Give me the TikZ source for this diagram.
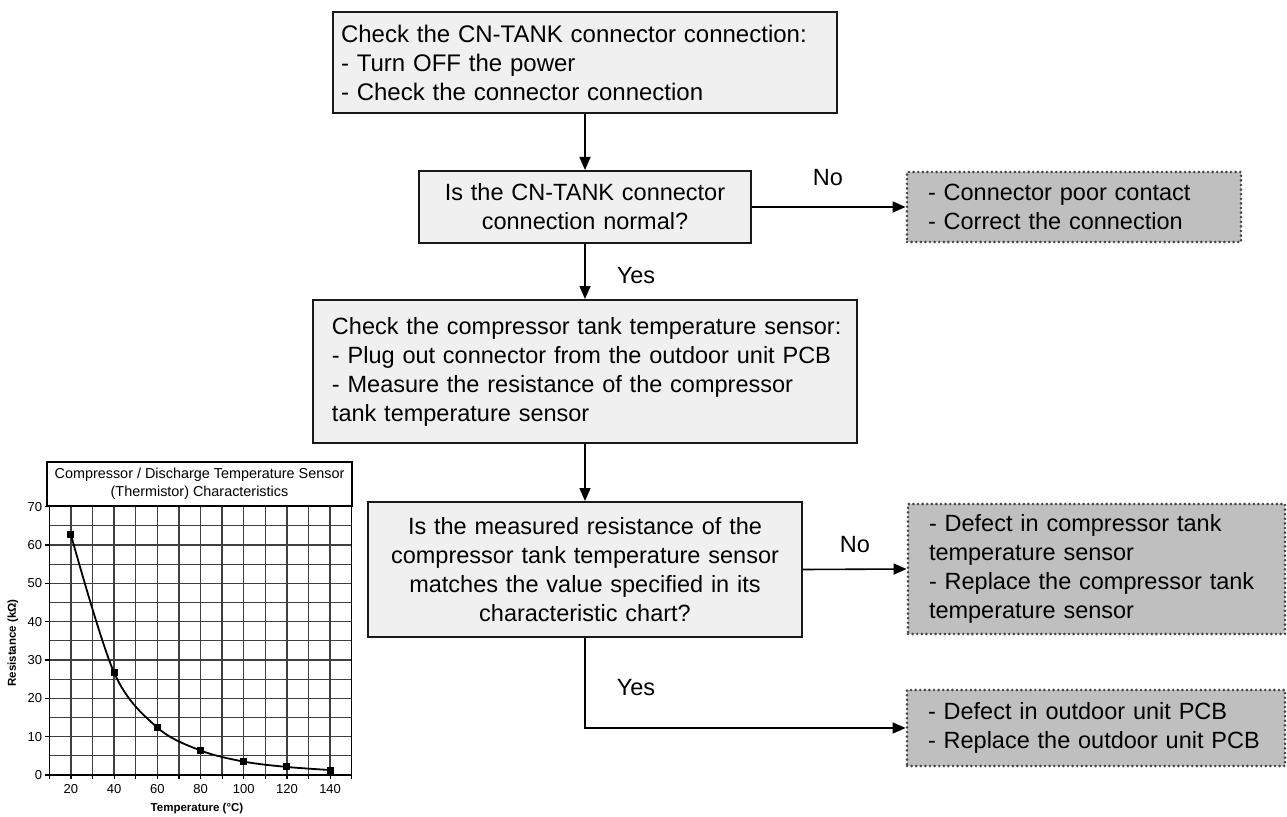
\documentclass[tikz,border=0pt]{standalone}
\usepackage{fontspec}
\setmainfont{Liberation Sans}
\usetikzlibrary{arrows.meta}
\definecolor{boxfill}{HTML}{F0F0F0}
\definecolor{resfill}{HTML}{BFBFBF}
\definecolor{dotcol}{HTML}{444444}
\hyphenpenalty=10000
\exhyphenpenalty=10000
\begin{document}
\begin{tikzpicture}[x=1bp,y=-1bp,
  bigfont/.style={font=\fontsize{23.5bp}{29bp}\selectfont},
  procbox/.style={draw=black!90, line width=2bp, fill=boxfill, bigfont, inner ysep=0bp},
  resbox/.style={draw=dotcol, fill=resfill, line width=2.9bp, dash pattern=on 0bp off 4.6bp, line cap=round, bigfont, inner ysep=0bp, align=left},
  arr/.style={line width=1.6bp, -{Triangle[length=13bp,width=11bp]}},
  lbl/.style={bigfont, inner sep=0bp},
  small/.style={font=\fontsize{13bp}{15bp}\selectfont, inner sep=0bp},
  axlbl/.style={font=\bfseries\fontsize{11.5bp}{14bp}\selectfont, inner sep=0bp},
  gridline/.style={draw=black!75, line width=1.25bp}]
\useasboundingbox (0,0) rectangle (1287,817);

% flowchart
\node[procbox, minimum width=504bp, minimum height=101bp, text width=488bp, inner xsep=8bp, align=left] (b1) at (585,62.5)
  {\fontsize{24bp}{29bp}\selectfont Check the CN-TANK connector connection:\\- Turn OFF the power\\- Check the connector connection};
\node[procbox, minimum width=332bp, minimum height=72bp, text width=320bp, inner xsep=6bp, align=center] (b2) at (585,207)
  {Is the CN-TANK connector\\connection normal?};
\node[procbox, minimum width=544bp, minimum height=143bp, text width=514bp, inner xsep=15bp, align=left] (b3) at (585,371.5)
  {\hspace*{4bp}Check the compressor tank temperature sensor:\\\hspace*{4bp}- Plug out connector from the outdoor unit PCB\\\hspace*{4bp}- Measure the resistance of the compressor\\\hspace*{4bp}tank temperature sensor};
\node[procbox, minimum width=434bp, minimum height=135bp, text width=420bp, inner xsep=7bp, align=center] (b4) at (585,569.5)
  {Is the measured resistance of the\\compressor tank temperature sensor\\matches the value specified in its\\characteristic chart?};

\node[resbox, minimum width=334bp, minimum height=70bp, text width=292bp, inner xsep=21bp] (r1) at (1074,207)
  {- Connector poor contact\\- Correct the connection};
\node[resbox, minimum width=377bp, minimum height=130bp, text width=335bp, inner xsep=21bp] (r2) at (1096.5,569)
  {- Defect in compressor tank\\temperature sensor\\- Replace the compressor tank\\temperature sensor};
\node[resbox, minimum width=378bp, minimum height=76bp, text width=336bp, inner xsep=21bp] (r3) at (1096,728)
  {- Defect in outdoor unit PCB\\- Replace the outdoor unit PCB};

\coordinate (bend) at (585,728);
\draw[arr] (b1.south) -- (b2.north);
\draw[arr] (b2.east) -- (r1.west);
\draw[arr] (b2.south) -- (b3.north);
\draw[arr] (b3.south) -- (b4.north);
\draw[arr] (b4.east) -- (r2.west);
\draw[arr] (b4.south) -- (bend) -- (r3.west);

\node[lbl] (no1) at (828,178) {No};
\node[lbl] (yes1) at (636,276) {Yes};
\node[lbl] (no2) at (855,545) {No};
\node[lbl] (yes2) at (636,688) {Yes};

% chart
\node[draw=black, line width=1.3bp, minimum width=305bp, minimum height=44bp, inner sep=0bp, align=center,
  font=\fontsize{14.4bp}{18.5bp}\selectfont] (ctitle) at (199.5,484)
  {Compressor / Discharge Temperature Sensor\\(Thermistor) Characteristics};
\begin{scope}[shift={(27.7,775)},x=2.16bp,y=3.833bp]
  \foreach \r in {5,10,...,65} \draw[gridline] (10,\r) -- (150,\r);
  \foreach \t in {20,30,...,140} \draw[gridline] (\t,0) -- (\t,70);
  \draw[black, line width=1.3bp] (10,0) rectangle (150,70);
  \foreach \t in {10,20,...,150} \draw[black, line width=1.2bp] (\t,0) -- ++(0,-1.1);
  \foreach \r in {0,10,...,70} {
    \draw[black, line width=1.2bp] (10,\r) -- ++(-2,0);
    \node[small, anchor=east] (yl\r) at (6.8,\r) {\r};
  }
  \foreach \t in {20,40,...,140} \node[small] (xl\t) at (\t,-3.6) {\t};
  \draw[black, line width=1.8bp] plot[smooth, tension=0.55] coordinates
    {(20,62.7) (40,26.7) (60,12.4) (80,6.4) (100,3.5) (120,2.1) (140,1.3)};
  \foreach \t/\r in {20/62.7,40/26.7,60/12.4,80/6.4,100/3.5,120/2.1,140/1.3}
    \fill[black] (\t,\r) ++(-3.5bp,-3.5bp) rectangle ++(7bp,7bp);
\end{scope}
\node[axlbl] (xtitle) at (197,809) {Temperature (°C)};
\node[axlbl, rotate=90] (ytitle) at (13,643) {Resistance (kΩ)};
\end{tikzpicture}
\end{document}
